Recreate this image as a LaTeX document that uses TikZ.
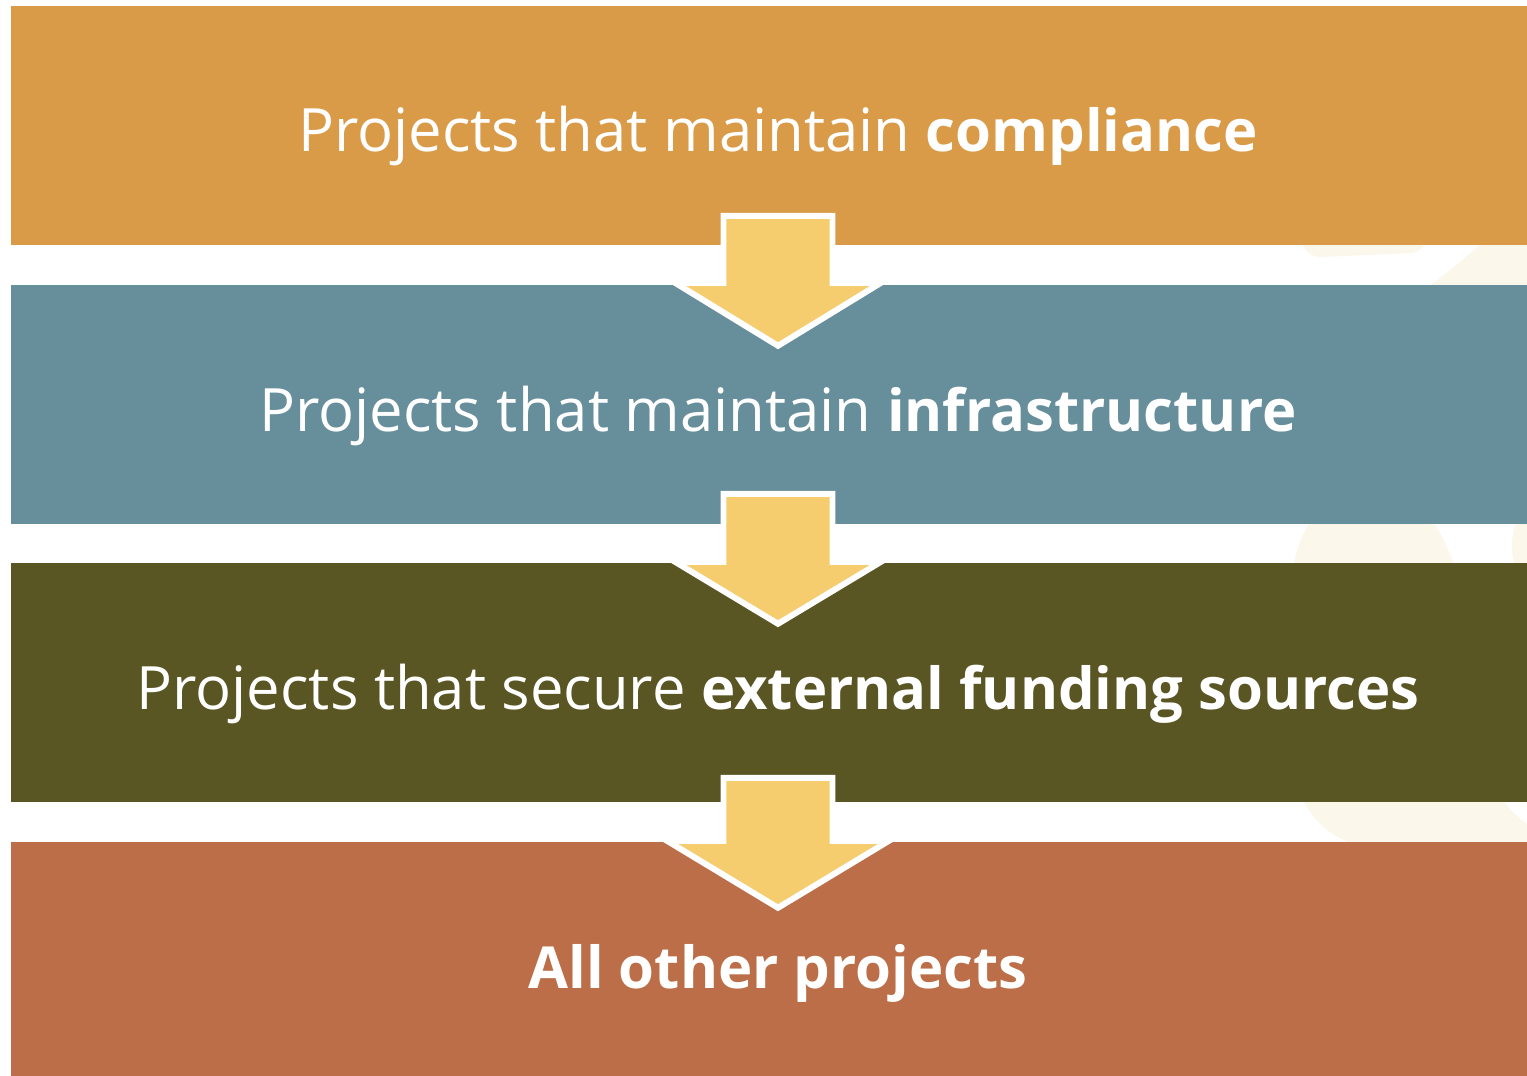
\documentclass[tikz,border=0pt]{standalone}
\usepackage{fontspec}
\setmainfont{Open Sans}[BoldFeatures={Scale=0.97}]
\usetikzlibrary{calc}

\definecolor{compliancegold}{HTML}{D99B48}
\definecolor{infrablue}{HTML}{668F9B}
\definecolor{fundingolive}{HTML}{5A5624}
\definecolor{otherrust}{HTML}{BB6E47}
\definecolor{arrowyellow}{HTML}{F5CC6E}
\definecolor{creamhaze}{HTML}{FCF7EB}

\tikzset{
  band/.style={rectangle, inner sep=0pt, minimum width=15.34cm, minimum height=2.39cm},
  bandtext/.style={anchor=base, inner sep=0pt, text=white, font=\fontsize{17}{20}\selectfont},
  flowarrow/.style={fill=arrowyellow, draw=white, line width=1.7pt, line join=miter},
  haze/.style={fill=creamhaze, draw=none}
}

\begin{document}
\begin{tikzpicture}[x=0.01cm, y=-0.01cm]
   \useasboundingbox (0,0) rectangle (1527,1076);
   \clip (0,0) rectangle (1527,1076);

   % faint shapes behind the bands, right side
   \fill[haze] (1296,200) .. controls (1298,240) and (1302,257) .. (1322,257)
      -- (1412,253) .. controls (1425,250) and (1432,240) .. (1440,200) -- cycle;
   \fill[haze] (1495,230) .. controls (1470,255) and (1445,275) .. (1410,300)
      -- (1527,300) -- (1527,230) -- cycle;
   \fill[haze] (1292,575) .. controls (1297,540) and (1308,518) .. (1330,500)
      -- (1415,500) .. controls (1436,520) and (1448,545) .. (1457,575) -- cycle;
   \fill[haze] (1562,546) ellipse (50 and 62);
   \fill[haze] (1300,795) .. controls (1315,825) and (1335,840) .. (1362,846)
      -- (1527,846) -- (1527,824) .. controls (1515,815) and (1506,806) .. (1500,795) -- cycle;

   % the four bands
   \node[band, fill=compliancegold] (b1) at (778,125.5) {};
   \node[band, fill=infrablue]      (b2) at (778,404.5) {};
   \node[band, fill=fundingolive]   (b3) at (778,682.5) {};
   \node[band, fill=otherrust]      (b4) at (778,961.5) {};

   % labels
   \node[bandtext] (t1) at ($(b1.center)+(0,26.5)$) {Projects that maintain \textbf{compliance}};
   \node[bandtext] (t2) at ($(b2.center)+(0,27)$) {Projects that maintain \textbf{infrastructure}};
   \node[bandtext] (t3) at ($(b3.center)+(0,27)$) {Projects that secure \textbf{external funding sources}};
   \node[bandtext] (t4) at ($(b4.center)+(0,27)$) {\textbf{All other projects}};

   % arrows between the bands
   \draw[flowarrow, shift={(b1.south)}] (-54.5,-30) -- (54.5,-30) -- (54.5,37) -- (103,37)
      -- (0,100) -- (-103,37) -- (-54.5,37) -- cycle;
   \draw[flowarrow, shift={(b2.south)}] (-54.5,-31) -- (54.5,-31) -- (54.5,37) -- (103,37)
      -- (0,99) -- (-103,37) -- (-54.5,37) -- cycle;
   \draw[flowarrow, shift={(b3.south)}] (-54.5,-25) -- (54.5,-25) -- (54.5,38) -- (111,38)
      -- (0,105) -- (-111,38) -- (-54.5,38) -- cycle;
\end{tikzpicture}
\end{document}
